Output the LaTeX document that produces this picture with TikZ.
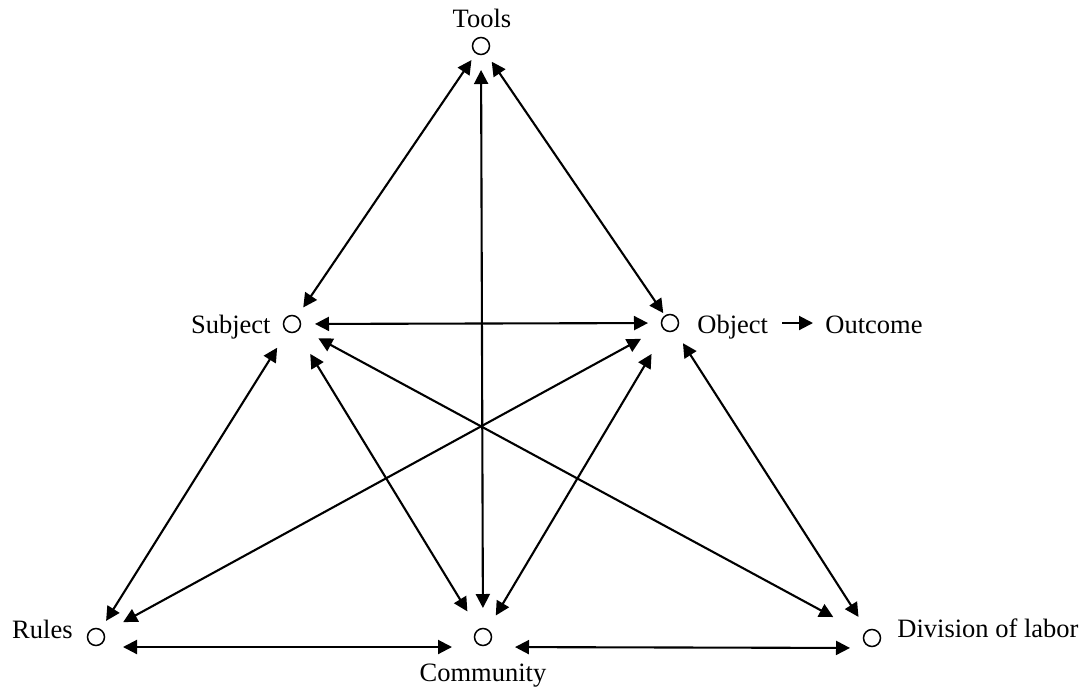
\documentclass[tikz,border=0pt]{standalone}
\usepackage{fontspec}
\setmainfont{Liberation Serif}
\usetikzlibrary{arrows.meta}
\begin{document}
\begin{tikzpicture}[x=0.5pt,y=-0.5pt,
  dot/.style={circle,draw,line width=0.75pt,minimum size=8.5pt,inner sep=0pt},
  lbl/.style={inner sep=0pt,font=\fontsize{13.25}{16}\selectfont},
  conn/.style={line width=1.05pt,{Triangle[length=7pt,width=7pt]}-{Triangle[length=7pt,width=7pt]}},
  oneway/.style={line width=1.05pt,-{Triangle[length=7pt,width=7pt]}}]
\useasboundingbox (0,0) rectangle (1089,687);
% circles
\node[dot] (T) at (481,46) {};
\node[dot] (S) at (292,324) {};
\node[dot] (O) at (670,323) {};
\node[dot] (R) at (96,637) {};
\node[dot] (C) at (483,637) {};
\node[dot] (D) at (872,638) {};
% labels
\node[lbl,anchor=base] (Tl) at (482,27) {Tools};
\node[lbl,anchor=base east] (Sl) at (271,333) {Subject};
\node[lbl,anchor=base west] (Ol) at (697,333) {Object};
\node[lbl,anchor=base west] (Out) at (825,333) {Outcome};
\node[lbl,anchor=base east] (Rl) at (73,638) {Rules};
\node[lbl,anchor=base] (Cl) at (483,681) {Community};
\node[lbl,anchor=base west] (Dl) at (897,637) {Division of labor};
% connectors
\draw[conn,shorten <=8.5pt,shorten >=10pt] (T.center) -- (S.center);
\draw[conn,shorten <=9.5pt,shorten >=6pt] (T.center) -- (O.center);
\draw[conn,shorten <=12pt,shorten >=14.5pt] (T.center) -- (C.center);
\draw[conn,shorten <=11.5pt,shorten >=11pt] (S.center) -- (O.center);
\draw[conn,shorten <=14pt,shorten >=9.5pt] (S.center) -- (R.center);
\draw[conn,shorten <=17.5pt,shorten >=15pt] (S.center) -- (C.center);
\draw[conn,shorten <=15pt,shorten >=22pt] (S.center) -- (D.center);
\draw[conn,shorten <=16.5pt,shorten >=15.5pt] (O.center) -- (R.center);
\draw[conn,shorten <=18pt,shorten >=12.5pt] (O.center) -- (C.center);
\draw[conn,shorten <=12pt,shorten >=12.5pt] (O.center) -- (D.center);
\draw[conn,shorten <=13.5pt,shorten >=15.5pt] ([yshift=-5pt]R.center) -- ([yshift=-5pt]C.center);
\draw[conn,shorten <=16pt,shorten >=11pt] ([yshift=-5pt]C.center) -- ([yshift=-5pt]D.center);
\draw[oneway,shorten <=7pt,shorten >=6pt] (Ol.east |- O.center) -- (Out.west |- O.center);
\end{tikzpicture}
\end{document}
